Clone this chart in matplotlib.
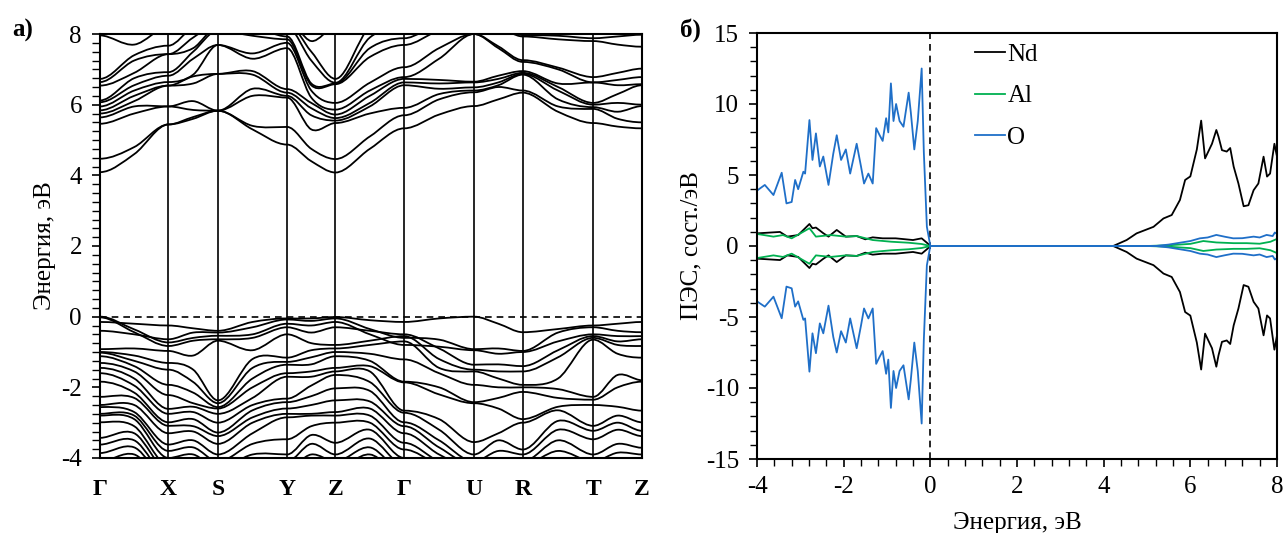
import numpy as np
import matplotlib
matplotlib.use("Agg")
import matplotlib.pyplot as plt
from matplotlib.path import Path
from matplotlib.patches import PathPatch
from matplotlib.ticker import MultipleLocator
import matplotlib.transforms as mtransforms

plt.rcParams['font.family'] = ['Liberation Serif', 'DejaVu Serif']
plt.rcParams['axes.unicode_minus'] = False

# ---------------- band structure data ----------------
kpath_labels = ['Γ', 'X', 'S', 'Y', 'Z', 'Γ', 'U', 'R', 'T', 'Z']
kpath_pos = [0.0, 0.1263, 0.2176, 0.3452, 0.4344, 0.5613, 0.690, 0.780, 0.910, 1.0]

# energies (eV) of each band at the high-symmetry points and segment midpoints (19 rows)
conduction_levels = [
    [4.09, 4.47, 5.46, 5.64, 5.75, 5.84, 5.95, 6.07, 6.12, 6.54, 6.64, 6.73, 7.96, 8.3],
    [4.6, 4.8, 5.75, 5.95, 6.1, 6.25, 6.4, 6.55, 6.75, 6.9, 7.25, 7.4, 7.7, 8.0],
    [5.44, 5.44, 5.95, 5.95, 6.54, 6.54, 6.64, 6.82, 6.92, 7.43, 7.43, 7.67, 8.2, 8.4],
    [5.6, 5.65, 5.85, 6.1, 6.6, 6.8, 6.85, 7.3, 7.5, 7.6, 7.9, 8.2, 8.3, 8.4],
    [5.83, 5.83, 5.83, 5.83, 6.87, 6.87, 7.69, 7.69, 8.1, 8.2, 8.3, 8.4, 8.5, 8.6],
    [5.3, 5.4, 6.25, 6.45, 6.85, 6.95, 7.3, 7.45, 7.95, 8.2, 8.3, 8.4, 8.5, 8.6],
    [4.87, 5.37, 6.2, 6.25, 6.34, 6.44, 7.6, 7.75, 7.85, 7.93, 8.2, 8.3, 8.4, 8.5],
    [4.4, 4.75, 5.3, 5.7, 5.9, 6.05, 6.2, 6.4, 6.55, 6.6, 7.25, 7.5, 7.8, 8.0],
    [4.08, 4.46, 5.48, 5.55, 5.62, 5.72, 5.86, 6.05, 6.58, 6.6, 6.62, 6.73, 8.2, 8.4],
    [4.75, 5.1, 5.75, 5.95, 6.05, 6.25, 6.4, 6.62, 7.35, 7.6, 7.9, 8.2, 8.3, 8.4],
    [5.33, 5.7, 5.91, 6.55, 6.63, 6.73, 6.78, 7.06, 7.69, 7.88, 8.2, 8.3, 8.4, 8.5],
    [5.72, 6.15, 6.3, 6.45, 6.6, 6.7, 7.3, 7.6, 8.1, 8.3, 8.4, 8.5, 8.6, 8.7],
    [5.96, 6.35, 6.4, 6.49, 6.63, 6.65, 8.0, 8.0, 8.3, 8.4, 8.5, 8.6, 8.7, 8.8],
    [6.15, 6.5, 6.55, 6.63, 6.73, 6.82, 7.6, 7.65, 8.2, 8.3, 8.4, 8.5, 8.6, 8.7],
    [6.34, 6.4, 6.85, 6.87, 6.9, 6.95, 7.21, 7.26, 7.93, 7.97, 8.3, 8.4, 8.5, 8.6],
    [5.8, 5.95, 6.15, 6.4, 6.5, 6.6, 7.0, 7.05, 7.85, 7.95, 8.3, 8.4, 8.5, 8.6],
    [5.48, 5.88, 5.93, 6.0, 6.05, 6.63, 6.63, 6.78, 7.8, 7.88, 8.3, 8.4, 8.5, 8.6],
    [5.38, 5.6, 5.8, 6.05, 6.3, 6.55, 6.7, 6.9, 7.7, 7.93, 8.3, 8.4, 8.5, 8.6],
    [5.33, 5.5, 5.96, 6.0, 6.55, 6.58, 6.78, 7.02, 7.64, 7.98, 8.3, 8.4, 8.5, 8.6],
]

valence_levels = [
    [-0.15, -0.4, 0.0, -0.02, -0.92, -1.0, -1.02, -1.12, -1.31, -1.45, -1.6, -1.84, -2.27, -2.5, -2.56, -2.75, -2.8, -2.99, -3.43, -3.62, -3.86, -4.1, -4.3, -4.5, -4.7, -4.9],
    [-0.2, -0.5, -0.36, -0.44, -0.9, -1.1, -1.25, -1.4, -1.55, -1.75, -1.95, -2.15, -2.3, -2.5, -2.7, -2.8, -2.9, -3.1, -3.3, -3.5, -3.7, -3.9, -4.2, -4.4, -4.6, -4.8],
    [-0.25, -0.64, -0.73, -0.83, -0.97, -1.31, -1.5, -1.93, -2.22, -2.61, -2.75, -2.99, -3.09, -3.3, -3.62, -3.8, -4.0, -4.2, -4.35, -4.5, -4.6, -4.7, -4.8, -4.9, -5.0, -5.1],
    [-0.33, -0.45, -0.6, -0.68, -1.1, -1.5, -1.85, -2.15, -2.45, -2.55, -2.7, -2.9, -3.1, -3.25, -3.5, -3.7, -3.9, -4.1, -4.3, -4.45, -4.6, -4.7, -4.8, -4.9, -5.0, -5.1],
    [-0.4, -0.45, -0.54, -0.64, -0.68, -2.37, -2.45, -2.56, -2.6, -2.75, -3.0, -3.28, -3.38, -3.6, -3.9, -4.1, -4.3, -4.45, -4.6, -4.7, -4.8, -4.9, -5.0, -5.1, -5.2, -5.3],
    [-0.15, -0.3, -0.5, -0.6, -0.95, -1.2, -1.45, -1.75, -2.0, -2.3, -2.5, -2.65, -2.85, -3.0, -3.3, -3.6, -3.9, -4.1, -4.3, -4.45, -4.6, -4.7, -4.8, -4.9, -5.0, -5.1],
    [-0.05, -0.08, -0.2, -0.3, -0.5, -1.16, -1.28, -1.36, -1.6, -1.7, -2.32, -2.42, -2.6, -2.75, -2.85, -3.47, -3.9, -4.1, -4.3, -4.45, -4.6, -4.7, -4.8, -4.9, -5.0, -5.1],
    [-0.05, -0.12, -0.25, -0.45, -0.75, -0.95, -1.15, -1.35, -1.55, -1.7, -1.95, -2.25, -2.5, -2.75, -2.8, -3.1, -3.35, -3.6, -3.9, -4.1, -4.3, -4.5, -4.7, -4.9, -5.0, -5.1],
    [-0.01, -0.05, -0.15, -0.3, -0.8, -0.9, -1.0, -1.12, -1.45, -1.55, -1.65, -2.03, -2.37, -2.7, -2.8, -3.0, -3.57, -3.9, -4.1, -4.3, -4.5, -4.7, -4.9, -5.0, -5.1, -5.2],
    [-0.1, -0.35, -0.5, -0.4, -0.68, -0.8, -1.05, -1.25, -1.4, -1.55, -1.85, -2.1, -2.4, -2.6, -2.8, -3.0, -3.2, -3.45, -3.7, -3.9, -4.1, -4.3, -4.5, -4.7, -4.9, -5.1],
    [-0.15, -0.6, -0.8, -0.5, -0.55, -0.7, -1.21, -1.84, -1.86, -2.66, -2.72, -2.99, -3.1, -3.3, -3.57, -3.76, -4.0, -4.2, -4.4, -4.5, -4.6, -4.7, -4.8, -4.9, -5.0, -5.1],
    [-0.05, -0.65, -0.85, -0.9, -1.2, -1.45, -1.6, -2.0, -2.2, -2.9, -3.2, -3.5, -3.7, -3.9, -4.1, -4.2, -4.3, -4.4, -4.5, -4.6, -4.7, -4.8, -4.9, -5.0, -5.1, -5.2],
    [0.0, -0.92, -0.95, -1.36, -1.5, -1.55, -1.93, -2.42, -2.45, -3.55, -3.9, -4.1, -4.2, -4.3, -4.4, -4.5, -4.6, -4.7, -4.8, -4.9, -5.0, -5.1, -5.2, -5.3, -5.4, -5.5],
    [-0.2, -0.9, -1.05, -1.35, -1.55, -1.75, -2.0, -2.3, -2.6, -3.3, -3.5, -3.8, -4.0, -4.2, -4.3, -4.4, -4.5, -4.6, -4.7, -4.8, -4.9, -5.0, -5.1, -5.2, -5.3, -5.4],
    [-0.44, -0.97, -1.0, -1.4, -1.55, -1.93, -2.0, -2.13, -2.9, -3.0, -3.76, -3.9, -4.1, -4.2, -4.3, -4.4, -4.5, -4.6, -4.7, -4.8, -4.9, -5.0, -5.1, -5.2, -5.3, -5.4],
    [-0.35, -0.45, -0.7, -0.95, -1.15, -1.75, -2.05, -2.3, -2.55, -2.65, -2.95, -3.2, -3.5, -3.8, -4.0, -4.2, -4.3, -4.4, -4.5, -4.6, -4.7, -4.8, -4.9, -5.0, -5.1, -5.2],
    [-0.25, -0.3, -0.5, -0.55, -0.6, -0.65, -2.27, -2.35, -2.5, -3.09, -3.23, -3.47, -3.9, -4.1, -4.2, -4.3, -4.4, -4.5, -4.6, -4.7, -4.8, -4.9, -5.0, -5.1, -5.2, -5.3],
    [-0.2, -0.4, -0.55, -0.7, -0.8, -1.05, -1.65, -2.0, -2.55, -2.8, -3.0, -3.2, -3.6, -3.85, -4.0, -4.2, -4.3, -4.4, -4.5, -4.6, -4.7, -4.8, -4.9, -5.0, -5.1, -5.2],
    [-0.15, -0.44, -0.55, -0.64, -0.83, -1.16, -1.8, -1.84, -2.66, -2.99, -3.23, -3.38, -3.71, -3.9, -4.1, -4.2, -4.3, -4.4, -4.5, -4.6, -4.7, -4.8, -4.9, -5.0, -5.1, -5.2],
]

# ---------------- PDOS data ----------------
o_energy = [-4.0, -3.82, -3.62, -3.43, -3.32, -3.2, -3.12, -3.05, -2.93, -2.89, -2.79, -2.72, -2.64, -2.55,
            -2.47, -2.35, -2.24, -2.16, -2.06, -1.95, -1.85, -1.7, -1.6, -1.53, -1.43, -1.33, -1.25, -1.17,
            -1.1, -1.02, -0.97, -0.91, -0.85, -0.79, -0.71, -0.62, -0.5, -0.45, -0.37, -0.29, -0.2, -0.15,
            -0.08, 0.0, 5.2, 5.5, 5.8, 6.0, 6.22, 6.4, 6.6, 6.8, 6.99, 7.2, 7.46, 7.6, 7.76, 7.9, 7.95, 8.0]
o_up = [3.9, 4.3, 3.59, 5.16, 3.0, 3.1, 4.65, 4.0, 5.23, 5.1, 8.87, 6.06, 7.93, 5.6, 6.3, 4.3, 6.5, 7.8,
        6.06, 6.8, 5.1, 7.2, 5.6, 4.4, 5.1, 4.4, 8.3, 7.8, 7.4, 9.0, 8.0, 11.45, 8.8, 10.0, 8.8, 8.4, 10.8,
        9.4, 6.8, 8.8, 12.5, 6.6, 1.36, 0.0, 0.0, 0.1, 0.25, 0.35, 0.54, 0.6, 0.78, 0.65, 0.54, 0.55, 0.66,
        0.6, 0.78, 0.7, 0.95, 0.85]
o_dn = [-3.9, -4.27, -3.57, -5.09, -2.86, -2.98, -4.27, -3.9, -5.2, -5.1, -8.85, -6.15, -7.55, -5.45, -6.15,
        -4.2, -6.4, -7.5, -6.0, -6.8, -5.1, -7.2, -5.6, -4.4, -5.1, -4.4, -8.3, -7.8, -7.4, -9.0, -8.0, -11.4,
        -8.8, -10.0, -8.8, -8.4, -10.8, -9.4, -6.8, -8.8, -12.5, -6.6, -1.36, 0.0, 0.0, -0.1, -0.25, -0.35,
        -0.54, -0.6, -0.78, -0.65, -0.54, -0.55, -0.66, -0.6, -0.78, -0.7, -0.95, -0.85]

nd_energy = [-4.0, -3.47, -3.3, -3.05, -2.79, -2.72, -2.64, -2.47, -2.35, -2.16, -1.95, -1.7, -1.5, -1.33,
             -1.1, -0.8, -0.4, -0.2, -0.08, 0.0, 4.22, 4.53, 4.76, 5.15, 5.38, 5.57, 5.76, 5.88, 6.0, 6.15,
             6.25, 6.34, 6.5, 6.6, 6.65, 6.73, 6.84, 6.92, 7.0, 7.11, 7.23, 7.34, 7.46, 7.57, 7.69, 7.77,
             7.84, 7.94, 8.0]
nd_up = [0.89, 0.99, 0.66, 0.77, 1.55, 1.25, 1.3, 0.9, 0.66, 1.13, 0.66, 0.7, 0.47, 0.61, 0.54, 0.54, 0.42,
         0.54, 0.23, 0.0, 0.0, 0.42, 0.89, 1.35, 1.94, 2.18, 3.24, 4.65, 4.9, 6.8, 8.83, 6.17, 7.2, 8.17, 7.7,
         6.75, 6.65, 6.9, 5.59, 4.4, 2.8, 2.87, 3.93, 4.4, 6.29, 4.89, 5.1, 7.2, 6.3]
nd_dn = [-0.89, -0.99, -0.66, -0.77, -1.55, -1.25, -1.3, -0.9, -0.66, -1.13, -0.66, -0.7, -0.47, -0.61, -0.54,
         -0.54, -0.42, -0.54, -0.23, 0.0, 0.0, -0.42, -0.89, -1.35, -1.94, -2.18, -3.24, -4.65, -4.9, -6.8,
         -8.7, -6.17, -7.2, -8.5, -7.7, -6.75, -6.65, -6.9, -5.59, -4.4, -2.75, -2.87, -3.93, -4.4, -6.29,
         -4.89, -5.1, -7.3, -6.3]

al_energy = [-4.0, -3.62, -3.4, -3.2, -2.79, -2.64, -2.3, -1.95, -1.7, -1.33, -0.9, -0.5, -0.2, 0.0, 5.0,
             5.5, 6.0, 6.3, 6.6, 7.0, 7.3, 7.6, 7.85, 8.0]
al_up = [0.85, 0.66, 0.77, 0.54, 1.25, 0.66, 0.77, 0.66, 0.7, 0.42, 0.3, 0.23, 0.14, 0.0, 0.0, 0.05, 0.15,
         0.35, 0.25, 0.2, 0.2, 0.16, 0.3, 0.5]
al_dn = [-0.85, -0.66, -0.77, -0.54, -1.25, -0.66, -0.77, -0.66, -0.7, -0.42, -0.3, -0.23, -0.14, 0.0, 0.0,
         -0.05, -0.15, -0.35, -0.25, -0.2, -0.2, -0.16, -0.3, -0.5]

species = ['Nd', 'Al', 'O']
species_colors = ['#000000', '#00b050', '#1f6fc8']

# ---------------- figure ----------------
fig = plt.figure(figsize=(12.83, 5.33), dpi=100)
axL = fig.add_axes([100 / 1283, 75 / 533, 542 / 1283, 424 / 533])
axR = fig.add_axes([757 / 1283, 74 / 533, 520 / 1283, 426 / 533])

FS = 18

# k coordinates of all 19 sampling points (high-symmetry points + midpoints)
k_all = []
for i in range(len(kpath_pos) - 1):
    k_all.append(kpath_pos[i])
    k_all.append(0.5 * (kpath_pos[i] + kpath_pos[i + 1]))
k_all.append(kpath_pos[-1])
k_all = np.array(k_all)


def band_path(xs, ys):
    n = len(xs)
    m = np.zeros(n)
    for i in range(1, n - 1):
        if i % 2 == 1:
            m[i] = (ys[i + 1] - ys[i - 1]) / (xs[i + 1] - xs[i - 1])
    verts = [(xs[0], ys[0])]
    codes = [Path.MOVETO]
    for i in range(n - 1):
        h = xs[i + 1] - xs[i]
        verts += [(xs[i] + h / 3, ys[i] + m[i] * h / 3),
                  (xs[i + 1] - h / 3, ys[i + 1] - m[i + 1] * h / 3),
                  (xs[i + 1], ys[i + 1])]
        codes += [Path.CURVE4] * 3
    return Path(verts, codes)


for levels in (conduction_levels, valence_levels):
    arr = np.array(levels)
    for b in range(arr.shape[1]):
        p = band_path(k_all, arr[:, b])
        axL.add_patch(PathPatch(p, facecolor='none', edgecolor='black', lw=1.3))

for kp in kpath_pos[1:-1]:
    axL.axvline(kp, color='black', lw=1.2)
axL.axhline(0, color='black', lw=1.2, ls=(0, (4, 3)))

axL.set_xlim(0, 1)
axL.set_ylim(-4, 8)
axL.set_xticks(kpath_pos)
axL.set_xticklabels([])
axL.tick_params(axis='x', length=0)
trans = mtransforms.blended_transform_factory(axL.transData, axL.transAxes)
for kp, lab in zip(kpath_pos, kpath_labels):
    axL.text(kp, -0.074, lab, transform=trans, ha='center', va='center',
             fontsize=FS - 1, fontweight='bold')
axL.yaxis.set_major_locator(MultipleLocator(2))
axL.yaxis.set_minor_locator(MultipleLocator(0.25))
axL.tick_params(axis='y', which='major', direction='out', length=6, width=1.2, labelsize=FS, pad=7)
axL.tick_params(axis='y', which='minor', direction='out', length=6, width=1.0)
axL.set_ylabel('Энергия, эВ', fontsize=FS, labelpad=4)
for s in axL.spines.values():
    s.set_linewidth(1.5)

# ---------------- PDOS panel ----------------
axR.plot(nd_energy, nd_up, color=species_colors[0], lw=1.3, label=species[0])
axR.plot(nd_energy, nd_dn, color=species_colors[0], lw=1.3)
axR.plot(al_energy, al_up, color=species_colors[1], lw=1.3, label=species[1])
axR.plot(al_energy, al_dn, color=species_colors[1], lw=1.3)
axR.plot(o_energy, o_up, color=species_colors[2], lw=1.3, label=species[2])
axR.plot(o_energy, o_dn, color=species_colors[2], lw=1.3)
axR.axvline(0, color='black', lw=1.2, ls=(0, (4, 3)), zorder=0.5)

axR.set_xlim(-4, 8)
axR.set_ylim(-15, 15)
axR.xaxis.set_major_locator(MultipleLocator(2))
axR.xaxis.set_minor_locator(MultipleLocator(0.4))
axR.yaxis.set_major_locator(MultipleLocator(5))
axR.yaxis.set_minor_locator(MultipleLocator(1))
axR.tick_params(which='major', direction='out', length=6, width=1.2, labelsize=FS)
axR.tick_params(which='minor', direction='out', length=5, width=1.0)
axR.tick_params(axis='x', pad=6)
axR.tick_params(axis='y', pad=7)
axR.set_xlabel('Энергия, эВ', fontsize=FS, labelpad=10)
axR.set_ylabel('ПЭС, сост./эВ', fontsize=FS, labelpad=2)
for s in axR.spines.values():
    s.set_linewidth(1.5)

leg = axR.legend(loc='upper left', bbox_to_anchor=(0.39, 1.01), frameon=False, fontsize=FS,
                 handlelength=1.2, handletextpad=0.1, labelspacing=0.75, borderaxespad=0.2)

fig.text(12 / 1283, 1 - 30 / 533, 'а)', fontsize=FS, fontweight='bold', va='center', ha='left')
fig.text(680 / 1283, 1 - 30 / 533, 'б)', fontsize=FS, fontweight='bold', va='center', ha='left')

fig.savefig('out.png', dpi=100)
